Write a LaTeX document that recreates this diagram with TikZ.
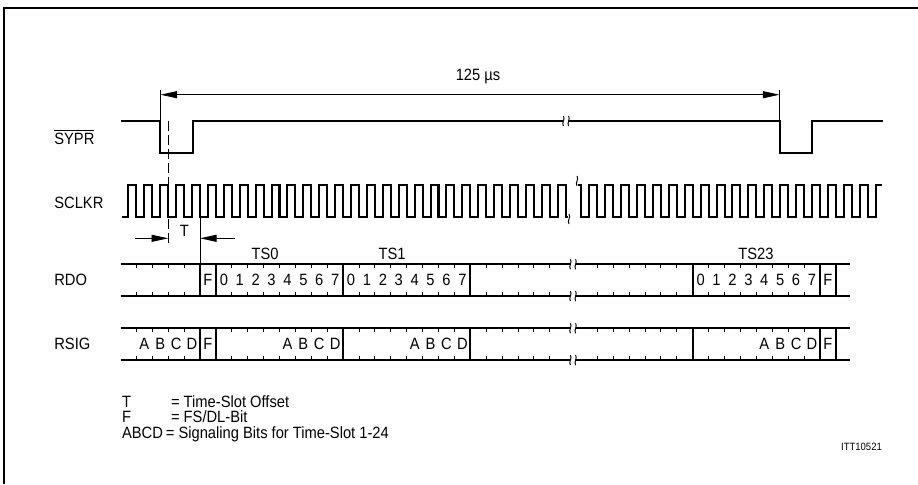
\documentclass[tikz,border=0pt]{standalone}
\usepackage{fontspec}
\setmainfont{Liberation Sans}[FakeStretch=0.9]
\usetikzlibrary{arrows.meta}

% small vertical wave, used for the time breaks
\newcommand\squig[2]{\draw[thinline] ({#1},{#2-5}) .. controls ({#1+2.2},{#2-2}) and ({#1-2.2},{#2+2}) .. ({#1},{#2+5});}
\newcommand\brk[2]{%
  \fill[white] ({#1-2.6},{#2-3}) rectangle ({#1+2.6},{#2+3});
  \squig{#1-2.6}{#2}\squig{#1+2.6}{#2}}

\begin{document}
\begin{tikzpicture}[
  x=0.02cm, y=-0.02cm,
  signal/.style={line width=1.15pt,line join=miter},
  bus/.style={line width=1.15pt},
  thinline/.style={line width=0.55pt},
  bittick/.style={line width=0.5pt},
  dimarrow/.style={line width=0.55pt,-{Triangle[length=9.5pt,width=4pt]}},
  dimboth/.style={line width=0.55pt,{Triangle[length=9.5pt,width=4pt]}-{Triangle[length=9.5pt,width=4pt]}},
  lbl/.style={inner sep=0pt,anchor=base west,font=\fontsize{9.3}{11}\selectfont},
  bitlbl/.style={inner sep=0pt,anchor=base,font=\fontsize{9.3}{11}\selectfont}
]
\useasboundingbox (0,0) rectangle (918,484);
\draw[line width=1.15pt,line join=miter] (4.3,484) -- (4.3,7.7) -- (918,7.7);

% signal names
\node[lbl] (nsypr)  at (54,144)   {$\overline{\mbox{SYPR}}$};
\node[lbl] (nsclkr) at (54,208.5) {SCLKR};
\node[lbl] (nrdo)   at (54,285.5) {RDO};
\node[lbl] (nrsig)  at (54,349.5) {RSIG};

% frame pulse and 125 us
\draw[signal] (121,121) -- (160.4,121) -- (160.4,153) -- (192.7,153) -- (192.7,121)
  -- (779.5,121) -- (779.5,153) -- (811.7,153) -- (811.7,121) -- (882.7,121);
\brk{566}{121}
\draw[thinline] (160.4,90) -- (160.4,121);
\draw[thinline] (779.5,90) -- (779.5,121);
\draw[dimboth] (160.4,94.7) -- (779.5,94.7);
\node[bitlbl] (period) at (478,80) {125 µs};

% receive clock
\draw[signal] (121.7,216.7) foreach \k in {-5,...,22}{
    -- ({200+15.9*(\k+0.5)},216.7) -- ++(0,-31.7) -- ({200+15.9*(\k+1)},185) -- ++(0,31.7) }
  -- (568,216.7);
\squig{569}{219}
\draw[signal] (578,185) foreach \j in {-7,...,11}{
    -- ({692.7+15.9*\j},185) -- ++(0,31.7) -- ({692.7+15.9*(\j+0.5)},216.7) -- ++(0,-31.7) }
  -- (882,185);
\squig{577}{181}

% time-slot offset
\draw[thinline,dash pattern=on 5.5pt off 2.5pt] (168.2,121) -- (168.2,242.7);
\draw[thinline] (200,216.7) -- (200,264.3);
\draw[dimarrow] (135,238.3) -- (168.2,238.3);
\draw[dimarrow] (235,238.3) -- (200,238.3);
\node[bitlbl] (toff) at (184.3,236) {T};

% data and signaling lines
\foreach \t/\b in {264.3/296,328.3/360}{
  \draw[bus] (120.5,\t) -- (850,\t);
  \draw[bus] (120.5,\b) -- (850,\b);
  \foreach \x in {200,215.9,343.1,470.3,692.7,819.9,835.8}
    \draw[bus] (\x,\t) -- (\x,\b);
  \foreach \k in {-4,...,-1,2,3,...,8,10,11,...,16,18,19,...,22}{
    \draw[bittick] ({200+15.9*\k},\t) -- ++(0,4);
    \draw[bittick] ({200+15.9*\k},\b) -- ++(0,-4);}
  \foreach \j in {-6,...,-1,1,2,...,7}{
    \draw[bittick] ({692.7+15.9*\j},\t) -- ++(0,4);
    \draw[bittick] ({692.7+15.9*\j},\b) -- ++(0,-4);}
  \brk{573}{\t}
  \brk{573}{\b}
}

\node[bitlbl] (ts0)  at (265,259.5) {TS0};
\node[bitlbl] (ts1)  at (392,259.5) {TS1};
\node[bitlbl] (ts23) at (756,259.5) {TS23};

\foreach \d in {0,...,7}{
  \node[bitlbl] (ts0b\d)  at ({200+15.9*(\d+1.5)},285) {\d};
  \node[bitlbl] (ts1b\d)  at ({200+15.9*(\d+9.5)},285) {\d};
  \node[bitlbl] (ts23b\d) at ({692.7+15.9*(\d+0.5)},285) {\d};
}
\node[bitlbl] (rdof1) at (207.9,285) {F};
\node[bitlbl] (rdof2) at (827.8,285) {F};

\foreach \c [count=\i from 0] in {A,B,C,D}{
  \node[bitlbl] (sl\c)  at ({200+15.9*(\i-3.5)},349.5) {\c};
  \node[bitlbl] (s0\c)  at ({200+15.9*(\i+5.5)},349.5) {\c};
  \node[bitlbl] (s1\c)  at ({200+15.9*(\i+13.5)},349.5) {\c};
  \node[bitlbl] (s23\c) at ({692.7+15.9*(\i+4.5)},349.5) {\c};
}
\node[bitlbl] (rsigf1) at (207.9,349.5) {F};
\node[bitlbl] (rsigf2) at (827.8,349.5) {F};

% legend
\node[lbl] (keyt) at (121.7,407)   {T};
\node[lbl] (dest) at (170.7,407)   {= Time-Slot Offset};
\node[lbl] (keyf) at (121.7,422.5) {F};
\node[lbl] (desf) at (170.7,422.5) {= FS/DL-Bit};
\node[lbl] (keya) at (121.7,438)   {ABCD};
\node[lbl] (desa) at (165.5,438)   {= Signaling Bits for Time-Slot 1-24};
\node[bitlbl,font=\fontsize{6}{7}\selectfont] (fig) at (861.5,450) {ITT10521};
\end{tikzpicture}
\end{document}
